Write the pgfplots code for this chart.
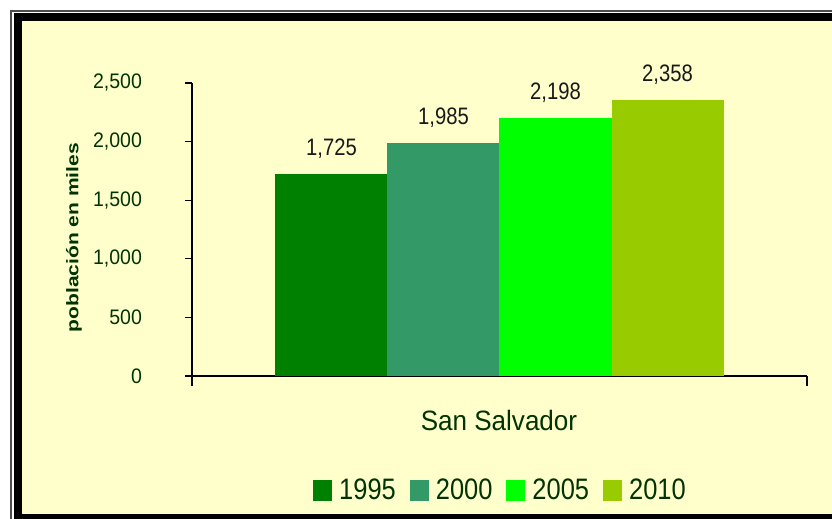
\documentclass[border=0pt]{standalone}
\usepackage{pgfplots}
\pgfplotsset{compat=1.18}
\usepackage{graphicx}
\usepackage{fontspec}
\setmainfont{Liberation Sans}
\definecolor{bgyellow}{HTML}{FFFFCC}
\definecolor{txtgreen}{HTML}{003300}
\definecolor{c1995}{HTML}{008000}
\definecolor{c2000}{HTML}{339966}
\definecolor{c2005}{HTML}{00FF00}
\definecolor{c2010}{HTML}{99CC00}
\begin{document}
\begin{tikzpicture}
% 1px = 0.5pt, picture 832x519 px
\useasboundingbox (0,0) rectangle (416pt,259.5pt);
\fill[white] (0,0) rectangle (416pt,259.5pt);
\draw[black!70, line width=1pt] (5.5pt,0) -- (5.5pt,254pt) -- (416pt,254pt);
\fill[black] (6.75pt,0) rectangle (416pt,252.75pt);
\fill[bgyellow] (10.75pt,2.5pt) rectangle (416pt,249pt);

\begin{axis}[
    at={(96pt,71.5pt)}, anchor=south west,
    width=307.5pt, height=146.5pt, scale only axis,
    xmin=0, xmax=1, ymin=0, ymax=2500,
    axis lines=left,
    axis line style={-, black, line width=0.6pt},
    xtick=\empty,
    ytick={0,500,1000,1500,2000,2500},
    tick align=outside,
    major tick length=3.5pt,
    y tick style={black, line width=0.6pt},
    scaled y ticks=false,
    /pgf/number format/assume math mode=true,
    /pgf/number format/1000 sep={,},
    yticklabel={\scalebox{0.93}[1]{\pgfmathprintnumber{\tick}}},
    yticklabel style={font=\fontsize{10.5}{12}\selectfont, text=txtgreen, xshift=-18pt},
    ybar=0pt, bar width=56pt,
    clip=false,
    nodes near coords={\scalebox{0.85}[1]{\pgfmathprintnumber{\pgfplotspointmeta}}},
    nodes near coords style={font=\fontsize{11.9}{13}\selectfont, text=black!90,
        inner sep=0pt, yshift=7.5pt},
    sq legend/.style={legend image code/.code={\fill[##1] (0pt,-5.25pt) rectangle (9.5pt,5.25pt);}},
    legend columns=4,
    legend style={at={(0.5,-0.39)}, anchor=center, draw=none, fill=none,
        font=\fontsize{14.8}{16}\selectfont, text=txtgreen,
        inner sep=0pt, nodes={inner sep=0pt},
        column sep=3.5pt,
        /tikz/every even column/.append style={column sep=7pt}},
]
\addplot[fill=c1995, draw=none, sq legend] coordinates {(0.5,1725)};
\addplot[fill=c2000, draw=none, sq legend] coordinates {(0.5,1985)};
\addplot[fill=c2005, draw=none, sq legend] coordinates {(0.5,2198)};
\addplot[fill=c2010, draw=none, sq legend] coordinates {(0.5,2358)};
\legend{\scalebox{0.86}[1]{1995},\scalebox{0.86}[1]{2000},\scalebox{0.86}[1]{2005},\scalebox{0.86}[1]{2010}}
\draw[black, line width=0.6pt] (axis cs:0,0) -- ++(0,-5pt);
\draw[black, line width=0.6pt] (axis cs:1,0) -- ++(0,-5pt);
\end{axis}

\node[rotate=90, font=\bfseries\fontsize{10.5}{12}\selectfont, text=txtgreen] at (37pt,140.75pt) {\scalebox{1}[0.8]{población en miles}};
\node[font=\fontsize{14}{16}\selectfont, text=txtgreen] at (249.5pt,49.5pt) {\scalebox{0.93}[1]{San Salvador}};
\end{tikzpicture}
\end{document}
